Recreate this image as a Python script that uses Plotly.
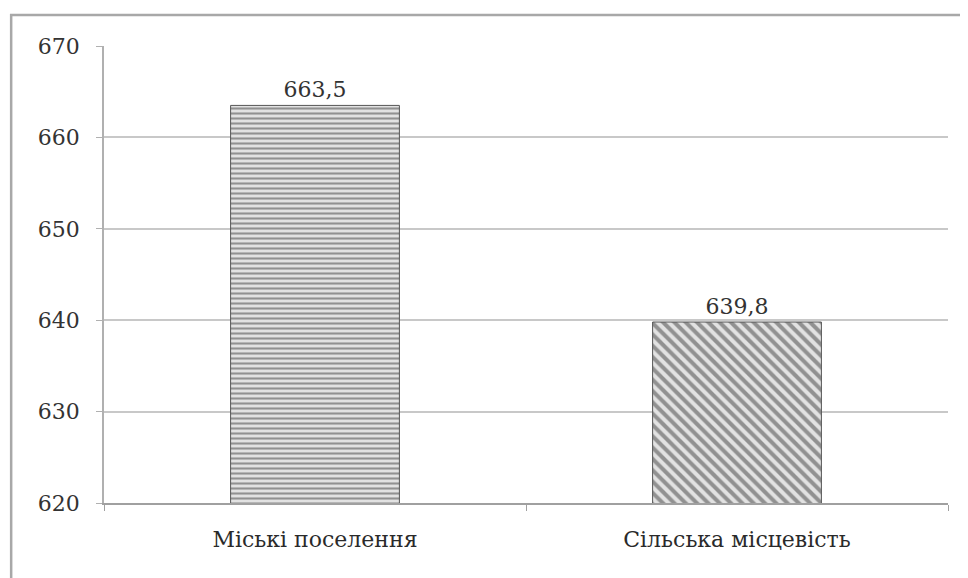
import plotly.graph_objects as go

categories = ["Міські поселення", "Сільська місцевість"]
values = [663.5, 639.8]
value_labels = ["663,5", "639,8"]
y_ticks = [620, 630, 640, 650, 660, 670]

font_family = "DejaVu Serif"

fig = go.Figure()
fig.add_trace(go.Bar(
    x=categories,
    y=values,
    text=value_labels,
    textposition="outside",
    textfont=dict(family=font_family, size=22, color="#333333"),
    cliponaxis=False,
    marker=dict(
        color="white",
        line=dict(color="#555555", width=1),
        pattern=dict(
            shape=["-", "\\"],
            fgcolor="#404040",
            bgcolor="#e2e2e2",
            size=[5, 8],
            solidity=[0.42, 0.5],
        ),
    ),
    width=0.4,
))

fig.update_layout(
    width=960,
    height=570,
    paper_bgcolor="white",
    plot_bgcolor="white",
    margin=dict(l=96, r=20, t=38, b=75),
    showlegend=False,
    font=dict(family=font_family, size=22, color="#333333"),
    xaxis=dict(
        showgrid=False,
        showline=True,
        linecolor="#a0a0a0",
        linewidth=1.5,
        ticks="outside",
        tickson="boundaries",
        ticklen=6,
        tickcolor="#a0a0a0",
        ticklabelstandoff=16,
        tickfont=dict(family=font_family, size=22, color="#2a2a2a"),
        automargin=False,
    ),
    yaxis=dict(
        range=[620, 670],
        tickvals=y_ticks,
        showgrid=True,
        gridcolor="#c8c8c8",
        gridwidth=1.5,
        showline=True,
        linecolor="#b0b0b0",
        linewidth=1.5,
        ticks="outside",
        ticklen=6,
        tickcolor="#b0b0b0",
        ticklabelstandoff=12,
        zeroline=False,
        automargin=False,
        tickfont=dict(family=font_family, size=22, color="#333333"),
    ),
    shapes=[dict(
        type="rect", xref="paper", yref="paper",
        x0=-0.110, x1=1.021, y0=-0.25, y1=1.068,
        line=dict(color="#a8a8a8", width=2.5),
        fillcolor="rgba(0,0,0,0)", layer="below",
    )],
)

fig.write_html("out.html")
